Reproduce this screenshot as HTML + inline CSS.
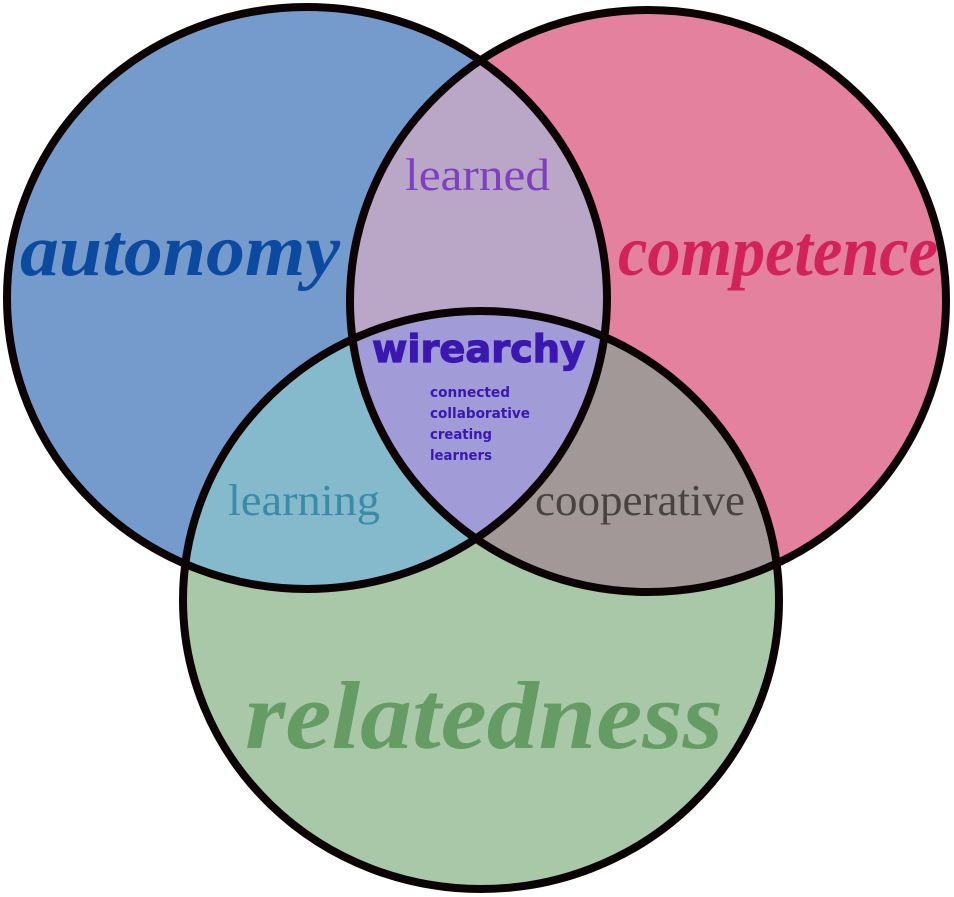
<!DOCTYPE html>
<html><head><meta charset="utf-8"><style>
html,body{margin:0;padding:0;background:#fff;}
svg{display:block;}
</style></head><body>
<svg width="954" height="897" viewBox="0 0 954 897" xmlns="http://www.w3.org/2000/svg">
<defs>
<clipPath id="cA"><ellipse cx="307" cy="298" rx="300" ry="291"/></clipPath>
<clipPath id="cB"><ellipse cx="648" cy="301" rx="298" ry="291"/></clipPath>
</defs>
<ellipse cx="307" cy="298" rx="300" ry="291" fill="#759bcd"/>
<ellipse cx="648" cy="301" rx="298" ry="291" fill="#e3819e"/>
<ellipse cx="481" cy="600" rx="298" ry="289" fill="#a8c8a8"/>
<g clip-path="url(#cA)"><ellipse cx="648" cy="301" rx="298" ry="291" fill="#baa6c7"/><ellipse cx="481" cy="600" rx="298" ry="289" fill="#84bacc"/></g>
<g clip-path="url(#cB)"><ellipse cx="481" cy="600" rx="298" ry="289" fill="#a29898"/></g>
<g clip-path="url(#cA)"><g clip-path="url(#cB)"><ellipse cx="481" cy="600" rx="298" ry="289" fill="#a19bd7"/></g></g>
<g fill="none" stroke="#0c0304" stroke-width="8">
<ellipse cx="307" cy="298" rx="300" ry="291"/>
<ellipse cx="648" cy="301" rx="298" ry="291"/>
<ellipse cx="481" cy="600" rx="298" ry="289"/>
</g>
<g font-family="Liberation Serif, serif" font-style="italic" font-weight="bold">
<text x="20" y="275" font-size="74" fill="#0c4a9f" textLength="320" lengthAdjust="spacingAndGlyphs">autonomy</text>
<text x="618" y="275" font-size="72" fill="#d1235a" textLength="320" lengthAdjust="spacingAndGlyphs">competence</text>
<text x="245" y="748" font-size="96" fill="#649c64" textLength="478" lengthAdjust="spacingAndGlyphs">relatedness</text>
</g>
<g font-family="Liberation Serif, serif">
<text x="405" y="190" font-size="46" fill="#7f3fc0" textLength="145" lengthAdjust="spacingAndGlyphs">learned</text>
<text x="228" y="515" font-size="44" fill="#3b8aa8" textLength="152" lengthAdjust="spacingAndGlyphs">learning</text>
<text x="535" y="515" font-size="44" fill="#4a4242" textLength="210" lengthAdjust="spacingAndGlyphs">cooperative</text>
</g>
<text x="372" y="362" font-family="DejaVu Sans, sans-serif" font-weight="bold" font-size="38" fill="#3a18b0" stroke="#3a18b0" stroke-width="1.2" textLength="213" lengthAdjust="spacingAndGlyphs">wirearchy</text>
<g font-family="DejaVu Sans, sans-serif" font-weight="bold" font-size="14" fill="#3a18b0">
<text x="430" y="397" textLength="80" lengthAdjust="spacingAndGlyphs">connected</text>
<text x="430" y="418" textLength="100" lengthAdjust="spacingAndGlyphs">collaborative</text>
<text x="430" y="439" textLength="62" lengthAdjust="spacingAndGlyphs">creating</text>
<text x="430" y="460" textLength="62" lengthAdjust="spacingAndGlyphs">learners</text>
</g>
</svg>
</body></html>
